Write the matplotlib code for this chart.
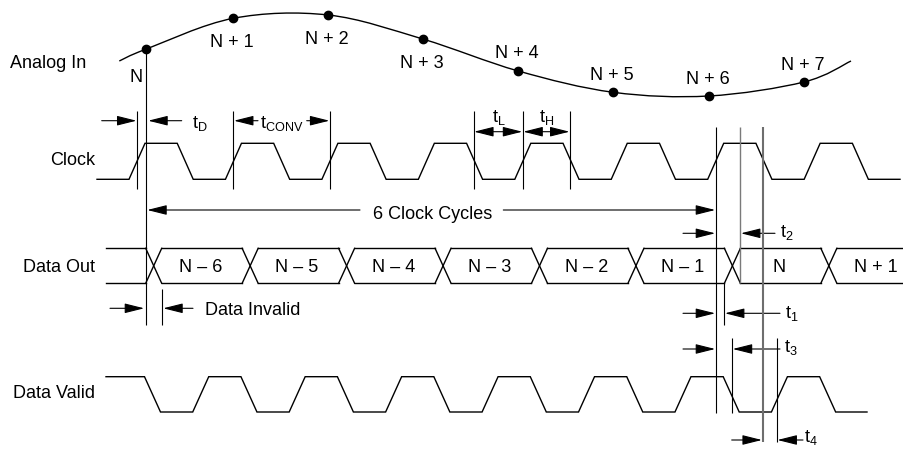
import numpy as np
import matplotlib
matplotlib.use("Agg")
import matplotlib.pyplot as plt
from matplotlib.path import Path
from matplotlib.patches import PathPatch, FancyArrowPatch

plt.rcParams['font.family'] = ['Liberation Sans', 'DejaVu Sans']
plt.rcParams['mathtext.fontset'] = 'custom'
plt.rcParams['mathtext.rm'] = 'Liberation Sans'
plt.rcParams['mathtext.it'] = 'Liberation Sans:italic'
plt.rcParams['mathtext.bf'] = 'Liberation Sans:bold'

# ---------------- data ----------------
row_names = ["Analog In", "Clock", "Data Out", "Data Valid"]
sample_labels = ["N", "N + 1", "N + 2", "N + 3", "N + 4", "N + 5", "N + 6", "N + 7"]
sample_label_side = ["left", "below", "below", "below", "above", "above", "above", "above"]
sample_x = [145.7, 233.3, 328.3, 422.7, 518.3, 613.3, 708.7, 804.0]
sample_level = [49.3, 18.3, 15.0, 39.0, 71.0, 92.3, 96.0, 82.0]   # drawing units, downward
analog_end_x = [119.3, 851.0]
analog_end_level = [61.0, 61.0]
word_labels = ["N – 6", "N – 5", "N – 4", "N – 3", "N – 2", "N – 1", "N", "N + 1"]
clock_period = 96.45
n_cycles = 8
latency_text = "6 Clock Cycles"
timing_names = ["D", "CONV", "L", "H", "1", "2", "3", "4"]

# ---------------- layout ----------------
W, H = 904, 453
fig = plt.figure(figsize=(W / 100, H / 100), dpi=100)
ax = fig.add_axes([0, 0, 1, 1])
ax.set_xlim(0, W)
ax.set_ylim(H, 0)
ax.axis('off')

FS = 13
LW = 1.0
TR = 8.0                     # half transition width
clk_hi, clk_lo = 143.3, 179.3
do_hi, do_lo = 248.3, 283.3
dv_hi, dv_lo = 376.7, 412.0
clk_rise0 = 137.0
dv_fall0 = 152.5
do_cross0 = 153.7
P = clock_period

clk_rise = [clk_rise0 + P * k for k in range(n_cycles)]
clk_fall = [r + P / 2 for r in clk_rise]
dv_fall = [dv_fall0 + P * k for k in range(n_cycles)]
dv_rise = [f + P / 2 for f in dv_fall[:-1]]
do_cross = [do_cross0 + P * k for k in range(n_cycles)]

# ---- Clock ----
xs, ys = [97.0], [clk_lo]
for r, f in zip(clk_rise, clk_fall):
    xs += [r - TR, r + TR, f - TR, f + TR]
    ys += [clk_lo, clk_hi, clk_hi, clk_lo]
xs.append(900.0); ys.append(clk_lo)
ax.plot(xs, ys, color='k', lw=LW, solid_joinstyle='miter')

# ---- Data Valid ----
xs, ys = [106.0], [dv_hi]
for k, f in enumerate(dv_fall):
    xs += [f - TR, f + TR]
    ys += [dv_hi, dv_lo]
    if k < len(dv_rise):
        r = dv_rise[k]
        xs += [r - TR, r + TR]
        ys += [dv_lo, dv_hi]
xs.append(867.0); ys.append(dv_lo)
ax.plot(xs, ys, color='k', lw=LW, solid_joinstyle='miter')

# ---- Data Out (bus) ----
starts = [106.0] + [c + TR for c in do_cross]
ends = [c - TR for c in do_cross] + [W]
for s, e in zip(starts, ends):
    ax.plot([s, e], [do_hi, do_hi], color='k', lw=LW)
    ax.plot([s, e], [do_lo, do_lo], color='k', lw=LW)
for c in do_cross:
    ax.plot([c - TR, c + TR], [do_hi, do_lo], color='k', lw=LW)
    ax.plot([c - TR, c + TR], [do_lo, do_hi], color='k', lw=LW)
for c, lab in zip(do_cross, word_labels):
    ax.text(c + P / 2 - 1.5, 272, lab, fontsize=FS, ha='center', va='baseline')

# ---- Analog In (smooth curve through samples) ----
px = [analog_end_x[0]] + sample_x + [analog_end_x[1]]
py = [analog_end_level[0]] + sample_level + [analog_end_level[1]]
pts = np.column_stack([px, py])
verts = [tuple(pts[0])]
codes = [Path.MOVETO]
n = len(pts)
for i in range(n - 1):
    p0 = pts[max(i - 1, 0)]
    p1 = pts[i]
    p2 = pts[i + 1]
    p3 = pts[min(i + 2, n - 1)]
    c1 = p1 + (p2 - p0) / 6.0
    c2 = p2 - (p3 - p1) / 6.0
    verts += [tuple(c1), tuple(c2), tuple(p2)]
    codes += [Path.CURVE4] * 3
ax.add_patch(PathPatch(Path(verts, codes), fill=False, lw=LW, color='k'))
ax.plot(sample_x, sample_level, 'o', color='k', ms=6)

for x, y, lab, side in zip(sample_x, sample_level, sample_labels, sample_label_side):
    if side == "left":
        ax.text(x - 10, y + 33, lab, fontsize=FS, ha='center', va='baseline')
    elif side == "below":
        ax.text(x - 1, y + 28.5, lab, fontsize=FS, ha='center', va='baseline')
    else:
        ax.text(x - 1, y - 12.5, lab, fontsize=FS, ha='center', va='baseline')

# ---- row labels ----
ax.text(10, 68.3, row_names[0], fontsize=FS, ha='left', va='baseline')
ax.text(95.5, 165, row_names[1], fontsize=FS, ha='right', va='baseline')
ax.text(95.5, 272, row_names[2], fontsize=FS, ha='right', va='baseline')
ax.text(95.5, 398, row_names[3], fontsize=FS, ha='right', va='baseline')

# ---- helpers ----
def vline(x, y0, y1, color='k', lw=0.8):
    ax.plot([x, x], [y0, y1], color=color, lw=lw, solid_capstyle='butt')

def arrow(x0, x1, y, style='-|>'):
    a = FancyArrowPatch((x0, y), (x1, y),
                        arrowstyle=f'{style},head_length=12,head_width=3.0',
                        mutation_scale=1, lw=0.8, color='k',
                        shrinkA=0, shrinkB=0)
    ax.add_patch(a)

def tlabel(x, y, sub):
    ax.text(x, y, r"t$_{\rm %s}$" % sub, fontsize=FS, ha='left', va='baseline')

# sample N line and data invalid
xN = sample_x[0]
vline(xN, sample_level[0], 325)
x_inv = do_cross[0] + TR
vline(x_inv, 289, 325)
arrow(110, xN - 1.5, 308.3)
arrow(193, x_inv + 1.5, 308.3)
ax.text(205, 315, "Data Invalid", fontsize=FS, ha='left', va='baseline')

# t_D
vline(clk_rise[0], 111, 189.3)
arrow(101.7, clk_rise[0] - 0.5, 120.7)
arrow(181.7, xN + 2.5, 120.7)
tlabel(191.7, 128.3, timing_names[0])

# t_CONV
vline(clk_rise[1], 111, 189.3)
vline(clk_rise[2], 111, 189.3)
arrow(258, clk_rise[1] + 0.5, 120.7)
arrow(306.7, clk_rise[2] - 0.5, 120.7)
tlabel(260, 128.3, timing_names[1])

# t_L / t_H
xa, xb, xc = clk_fall[3] - 1, clk_rise[4], clk_fall[4] - 1
for x in (xa, xb, xc):
    vline(x, 111, 189.3)
arrow(xa + 0.5, xb - 0.5, 131.7, '<|-|>')
arrow(xb + 0.5, xc - 0.5, 131.7, '<|-|>')
tlabel(491.7, 121.7, timing_names[2])
tlabel(539.3, 121.7, timing_names[3])

# 6 clock cycles
x6 = clk_rise[6]
arrow(360, xN + 1.5, 210)
arrow(503.3, x6 - 0.5, 210)
ax.text(432.5, 219, latency_text, fontsize=FS, ha='center', va='baseline')

# right-hand timing lines
vline(x6, 126.7, 412.7)
x_do_end = do_cross[6] + TR
x_do_start = do_cross[6] - TR
vline(x_do_end, 126.7, 283, color='#7a7a7a', lw=1.0)
x_cf = clk_fall[6] - 1
vline(x_cf, 126.7, 441.7, color='#6e6e6e', lw=1.5)
vline(x_do_start, 283, 325)
x_t3 = dv_fall[6] + 1
x_t4 = dv_rise[6] - 2.5
vline(x_t3, 338.3, 412.7)
vline(x_t4, 338.3, 441.7)

# t2
arrow(683, x6 - 0.5, 233.3)
arrow(775, x_do_end + 0.5, 233.3)
tlabel(780, 236.7, timing_names[5])
# t1
arrow(683, x6 - 0.5, 313.3)
arrow(780, x_do_start + 0.5, 313.3)
tlabel(785, 318.3, timing_names[4])
# t3
arrow(683, x6 - 0.5, 349)
arrow(780, x_t3 + 0.5, 349)
tlabel(784, 351.7, timing_names[6])
# t4
arrow(731.7, x_cf - 1, 440)
arrow(803, x_t4 + 0.5, 440)
tlabel(804, 442, timing_names[7])

fig.savefig("out.png", dpi=100)
